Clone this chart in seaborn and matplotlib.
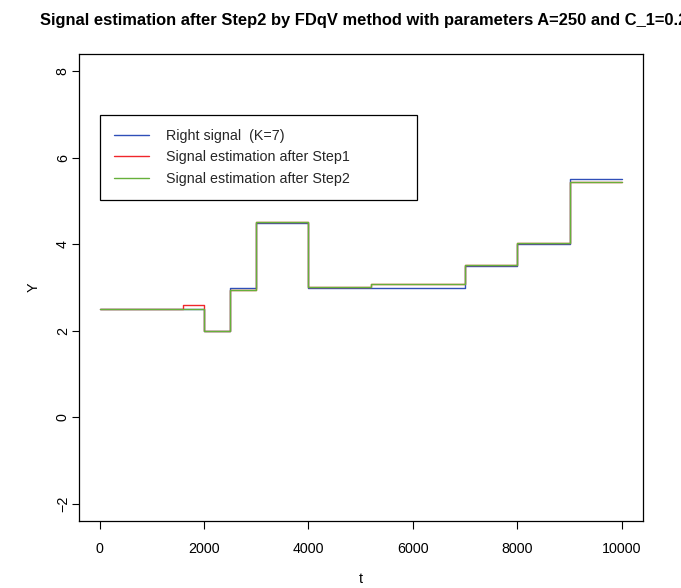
import numpy as np
import pandas as pd
import matplotlib
matplotlib.use("Agg")
import matplotlib.pyplot as plt
import seaborn as sns

# Piecewise-constant signals: change points (t) and level on each segment
right_bp = [0, 2000, 2500, 3000, 4000, 7000, 8000, 9000, 10000]
right_lv = [2.5, 2.0, 3.0, 4.5, 3.0, 3.5, 4.0, 5.5]

step1_bp = [0, 1600, 2000, 2500, 3000, 4000, 5200, 7000, 8000, 9000, 10000]
step1_lv = [2.5, 2.6, 2.0, 2.94, 4.51, 3.01, 3.07, 3.53, 4.03, 5.45]

step2_bp = [0, 2000, 2500, 3000, 4000, 5200, 7000, 8000, 9000, 10000]
step2_lv = [2.5, 2.0, 2.94, 4.51, 3.01, 3.07, 3.53, 4.03, 5.45]

series_names = ["Right signal  (K=7)",
                "Signal estimation after Step1",
                "Signal estimation after Step2"]
series_colors = ["#2f4fb8", "#f0262b", "#66b03a"]

x_ticks = [0, 2000, 4000, 6000, 8000, 10000]
y_ticks = [-2, 0, 2, 4, 6, 8]

title = "Signal estimation after Step2 by FDqV method with parameters A=250 and C_1=0.2"


def step_frame(bp, lv, name):
    # repeat the last level so the final segment reaches the last change point
    return pd.DataFrame({"t": bp, "Y": list(lv) + [lv[-1]], "series": name})


df = pd.concat([
    step_frame(right_bp, right_lv, series_names[0]),
    step_frame(step1_bp, step1_lv, series_names[1]),
    step_frame(step2_bp, step2_lv, series_names[2]),
], ignore_index=True)

sns.set_style("ticks")
plt.rcParams["font.family"] = ["Liberation Sans", "DejaVu Sans"]

FS = 10.3  # axis / legend text size in points

W, H = 681, 588
fig = plt.figure(figsize=(W / 100, H / 100), dpi=100)
ax = fig.add_axes([78.7 / W, 1 - 521 / H, (642.7 - 78.7) / W, (521 - 54) / H])

sns.lineplot(data=df, x="t", y="Y", hue="series", hue_order=series_names,
             palette=dict(zip(series_names, series_colors)),
             drawstyle="steps-post", estimator=None, sort=False,
             linewidth=1.0, ax=ax, legend=False)

ax.set_xlim(-400, 10400)
ax.set_ylim(-2.4, 8.4)
ax.set_xticks(x_ticks)
ax.set_xticklabels([str(v) for v in x_ticks])
ax.set_yticks(y_ticks)
ax.set_yticklabels([("\u2212" + str(-v)) if v < 0 else str(v) for v in y_ticks],
                   rotation=90, va="center")

for s in ax.spines.values():
    s.set_visible(True)
    s.set_color("black")
    s.set_linewidth(0.9)

ax.tick_params(axis="both", direction="out", length=5.4, width=0.8,
               color="black", labelsize=FS, labelcolor="black")
ax.tick_params(axis="x", pad=10)
ax.tick_params(axis="y", pad=1)

ax.set_xlabel("t", fontsize=FS, color="black")
ax.set_ylabel("Y", fontsize=FS, color="black")
ax.xaxis.set_label_coords(0.5, -(572 - 521) / (521 - 54))
ax.yaxis.set_label_coords(-(78.7 - 41) / (642.7 - 78.7), 0.5)

fig.text(40 / W, 1 - 20 / H, title, ha="left", va="center",
         fontsize=11.85, fontweight="bold", color="black")

# Legend box anchored in data coordinates, spanning t=0..6080, Y=5..7
handles = [plt.Line2D([], [], color=c, lw=1.0) for c in series_colors]
leg = ax.legend(handles, series_names, loc="upper left",
                bbox_to_anchor=(0, 5, 6080, 2), bbox_transform=ax.transData,
                mode="expand", borderaxespad=0, fontsize=FS,
                frameon=True, fancybox=False, framealpha=1,
                edgecolor="black", borderpad=1.0, labelspacing=0.52,
                handlelength=2.43, handletextpad=1.18)
leg.get_frame().set_linewidth(0.9)

fig.savefig("out.png", dpi=100)
